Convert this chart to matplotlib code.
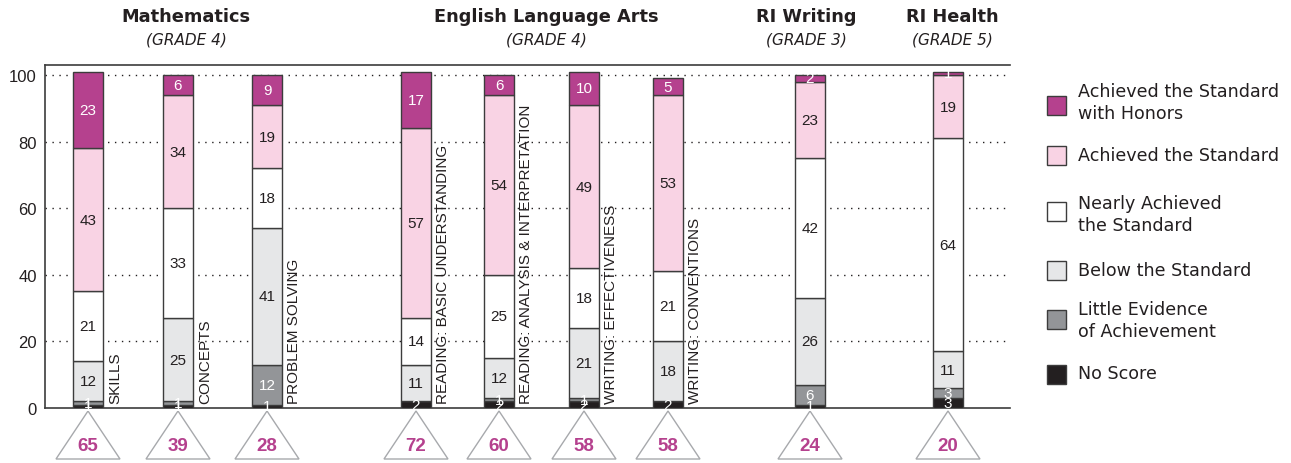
import matplotlib.pyplot as plt
import numpy as np

plt.rcParams['font.family'] = ['Liberation Sans', 'DejaVu Sans']

# ---------------------------------------------------------------- datos
barras = ['SKILLS', 'CONCEPTS', 'PROBLEM SOLVING',
          'READING: BASIC UNDERSTANDING', 'READING: ANALYSIS & INTERPRETATION',
          'WRITING: EFFECTIVENESS', 'WRITING: CONVENTIONS', '', '']
no_score = [1, 1, 1, 2, 2, 2, 2, 1, 3]
little = [1, 1, 12, 0, 1, 1, 0, 6, 3]
below = [12, 25, 41, 11, 12, 21, 18, 26, 11]
nearly = [21, 33, 18, 14, 25, 18, 21, 42, 64]
achieved = [43, 34, 19, 57, 54, 49, 53, 23, 19]
honors = [23, 6, 9, 17, 6, 10, 5, 2, 1]
n_alumnos = [65, 39, 28, 72, 60, 58, 58, 24, 20]

grupos = ['Mathematics', 'English Language Arts', 'RI Writing', 'RI Health']
grados = ['(GRADE 4)', '(GRADE 4)', '(GRADE 3)', '(GRADE 5)']

niveles = ['No Score', 'Little Evidence\nof Achievement', 'Below the Standard',
           'Nearly Achieved\nthe Standard', 'Achieved the Standard',
           'Achieved the Standard\nwith Honors']
# ---------------------------------------------------------------- estilo
colores = ['#231f20', '#939598', '#e6e7e8', '#ffffff', '#f9d3e4', '#b5418e']
color_txt = ['white', 'white', '#231f20', '#231f20', '#231f20', 'white']
borde = '#3c3c3c'
magenta = '#b5418e'
ancha = ['DejaVu Sans']  # letra mas ancha para titulos y leyenda

W, H = 1291, 464
fig = plt.figure(figsize=(W / 100, H / 100), dpi=100)
x0, x1, y0, y1 = 45, 1010, 409, 66
ax = fig.add_axes([x0 / W, 1 - y0 / H, (x1 - x0) / W, (y0 - y1) / H])
ax.set_xlim(0, x1 - x0)
ax.set_ylim(0, 103)

# centros de barras (pixeles desde el eje)
pos = np.array([88, 178, 267, 416, 499, 584, 668, 810, 948]) - x0
ancho = 30

series = [no_score, little, below, nearly, achieved, honors]
base = np.zeros(len(pos))
for serie, col, ctxt in zip(series, colores, color_txt):
    vals = np.array(serie, dtype=float)
    ax.bar(pos, vals, width=ancho, bottom=base, color=col, edgecolor=borde,
           linewidth=1.0, zorder=3)
    for xi, b, v in zip(pos, base, vals):
        if v > 0:
            ax.text(xi, b + v / 2, f'{int(v)}', ha='center', va='center',
                    fontsize=11, color=ctxt, zorder=4)
    base += vals

# lineas punteadas
for yv in [20, 40, 60, 80, 100]:
    ax.axhline(yv, color='#231f20', lw=1, ls=(0, (1, 4)), zorder=1)

# etiquetas verticales
for xi, lab in zip(pos, barras):
    if lab:
        ax.text(xi + 27, 1.5, lab, rotation=90, ha='center', va='bottom',
                fontsize=11, color='#231f20', zorder=4)

# triangulos con n
esc = 100 / (409 - 76)
for xi, n in zip(pos, n_alumnos):
    tri = plt.Polygon([[xi, -3 * esc], [xi - 32, -51 * esc], [xi + 32, -51 * esc]],
                      closed=True, facecolor='white', edgecolor='#a7a9ac', lw=1,
                      clip_on=False)
    ax.add_patch(tri)
    ax.text(xi, -37 * esc, str(n), ha='center', va='center', fontsize=13.5,
            fontweight='bold', color=magenta, clip_on=False)

# ejes
for s in ['top', 'bottom', 'left']:
    ax.spines[s].set_color('#3c3c3c')
    ax.spines[s].set_linewidth(1.2)
ax.spines['right'].set_visible(False)
ax.set_xticks([])
ax.set_yticks([0, 20, 40, 60, 80, 100])
ax.tick_params(axis='y', length=0, labelsize=12, pad=6, colors='#231f20')

# titulos de grupos
centros_grupo = [186, 546, 806, 952]
for cx, g, gr in zip(centros_grupo, grupos, grados):
    fig.text(cx / W, 1 - 17 / H, g, ha='center', va='center', fontsize=12.8,
             fontweight='bold', color='#231f20', family=ancha)
    fig.text(cx / W, 1 - 40 / H, gr, ha='center', va='center', fontsize=11,
             style='italic', color='#231f20', family=ancha)

# leyenda
ley_cuadro = [375, 320, 271, 212, 156, 106]
ley_texto = [374, 321, 271, 215, 156, 103]
for yc, yt, col, lab in zip(ley_cuadro, ley_texto, colores, niveles):
    fig.patches.append(plt.Rectangle(
        (1047 / W, 1 - (yc + 9.5) / H), 19 / W, 19 / H, transform=fig.transFigure,
        facecolor=col, edgecolor=borde, lw=1))
    fig.text(1078 / W, 1 - yt / H, lab, ha='left', va='center', fontsize=12.6,
             color='#231f20', linespacing=1.25, family=ancha)

fig.savefig('out.png', dpi=100)
